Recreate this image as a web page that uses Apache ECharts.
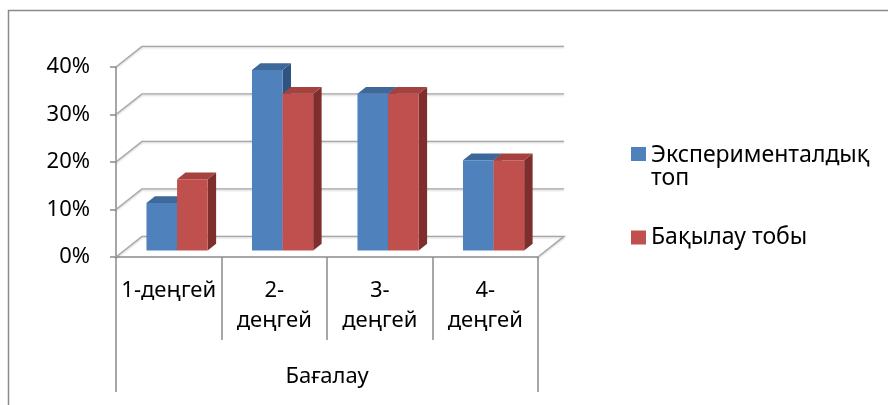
<!DOCTYPE html>
<html>
<head>
<meta charset="utf-8">
<script src="https://cdn.jsdelivr.net/npm/echarts/dist/echarts.min.js"></script>
<style>
  html, body { margin: 0; padding: 0; background: #fff; }
  #chart { width: 888px; height: 405px; }
</style>
</head>
<body>
<div id="chart"></div>
<script>
// Assessment levels and the share of each group at every level (%)
const levels = ['1-деңгей', '2-деңгей', '3-деңгей', '4-деңгей'];
const levelTickLabels = ['1-деңгей', '2-\nдеңгей', '3-\nдеңгей', '4-\nдеңгей'];
const groupLabel = ['Бағалау'];
const seriesNames = ['Экспериментaлдық топ', 'Бақылау тобы'];
const legendLabels = ['Экспериментaлдық\nтоп', 'Бақылау тобы'];
const experimental = [10, 38, 33, 19];
const control = [15, 33, 33, 19];
const valueTicks = [0, 10, 20, 30, 40];

const FONT = '"Noto Sans", "DejaVu Sans", sans-serif';

// Oblique projection of the floor depth (pixels) and where the columns sit in it
const DEPTH_DX = 26, DEPTH_DY = -20.6;
const BAR_NEAR = 0.32, BAR_FAR = 0.645;
const BAR_FRAC = 0.29;

const palettes = [
  { front: '#4F81BD', top: '#3D6899', side: '#2E5482' },
  { front: '#C0504D', top: '#A5413E', side: '#7E2F2D' }
];

function columnRenderer(seriesIndex) {
  const pal = palettes[seriesIndex];
  return function (params, api) {
    const cat = api.value(0);
    const val = api.value(1);
    const base = api.coord([cat, 0]);
    const tip = api.coord([cat, val]);
    const bw = api.size([1, 0])[0] * BAR_FRAC;
    const nx = DEPTH_DX * BAR_NEAR, ny = DEPTH_DY * BAR_NEAR;
    const ddx = DEPTH_DX * (BAR_FAR - BAR_NEAR), ddy = DEPTH_DY * (BAR_FAR - BAR_NEAR);
    const L = base[0] + (seriesIndex === 0 ? -bw : 0) + nx;
    const R = L + bw;
    const B = base[1] + ny;
    const T = tip[1] + ny;
    return {
      type: 'group',
      children: [
        { type: 'polygon', shape: { points: [[R, B], [R + ddx, B + ddy], [R + ddx, T + ddy], [R, T]] },
          style: { fill: pal.side } },
        { type: 'polygon', shape: { points: [[L, T], [R, T], [R + ddx, T + ddy], [L + ddx, T + ddy]] },
          style: { fill: pal.top } },
        { type: 'rect', shape: { x: L, y: T, width: bw, height: B - T },
          style: { fill: pal.front } }
      ]
    };
  };
}

// Side wall, back wall and floor outlines at each value tick
function wallRenderer(params, api) {
  const cs = params.coordSys;
  const v = api.value(1);
  const y = api.coord([0, v])[1];
  const xl = cs.x, xr = cs.x + cs.width;
  const pts = [[xl, y], [xl + DEPTH_DX, y + DEPTH_DY], [xr + DEPTH_DX, y + DEPTH_DY]];
  if (v === 0) pts.push([xr, y]);
  return {
    type: 'polyline',
    shape: { points: pts },
    style: {
      stroke: '#a8a8a8', lineWidth: 1.4, fill: null,
      shadowColor: 'rgba(0,0,0,0.22)', shadowBlur: 2, shadowOffsetY: 1
    }
  };
}

const chart = echarts.init(document.getElementById('chart'), null, { renderer: 'canvas' });

const legendText = { fontSize: 23, fontFamily: FONT, color: '#000' };
const legendFormatter = name => legendLabels[seriesNames.indexOf(name)];

chart.setOption({
  animation: false,
  backgroundColor: '#fff',
  textStyle: { fontFamily: FONT },
  graphic: [{
    type: 'rect', silent: true, z: -10,
    shape: { x: 8.5, y: 10.5, width: 1000, height: 1000 },
    style: { fill: null, stroke: '#8a8a8a', lineWidth: 1.5 }
  }],
  grid: { left: 116, right: 350, top: 67, bottom: 148 },
  legend: [{
    // two-line entry: the square sits beside the first line
    orient: 'vertical', left: 631, top: 144, padding: 0,
    itemWidth: 15, itemHeight: 40,
    icon: 'path://M0 0L15 0L15 14L0 14Z M0 40L0.01 40',
    textStyle: legendText, formatter: legendFormatter,
    data: [seriesNames[0]]
  }, {
    orient: 'vertical', left: 631, top: 226, padding: 0,
    itemWidth: 15, itemHeight: 14, icon: 'rect',
    textStyle: legendText, formatter: legendFormatter,
    data: [seriesNames[1]]
  }],
  xAxis: [{
    type: 'category', data: levels, position: 'bottom',
    axisLine: { show: true, lineStyle: { color: '#8a8a8a', width: 1.5 } },
    axisTick: { show: true, length: 83, lineStyle: { color: '#8a8a8a', width: 1.5 } },
    axisLabel: {
      interval: 0, margin: 19, fontSize: 22, color: '#000', lineHeight: 30, fontFamily: FONT,
      formatter: (v, i) => levelTickLabels[i]
    }
  }, {
    type: 'category', data: groupLabel, position: 'bottom',
    axisLine: { show: false },
    axisTick: { show: true, length: 135, lineStyle: { color: '#8a8a8a', width: 1.5 } },
    axisLabel: { margin: 105, fontSize: 22, color: '#000', lineHeight: 30, fontFamily: FONT }
  }],
  yAxis: {
    type: 'value', min: 0, max: 40, interval: 10,
    axisLine: { show: true, lineStyle: { color: '#8a8a8a', width: 1.5 } },
    axisTick: { show: true, length: 6, lineStyle: { color: '#8a8a8a', width: 1.5 } },
    splitLine: { show: false },
    axisLabel: { formatter: '{value}%', margin: 26, fontSize: 22, color: '#000', fontFamily: FONT }
  },
  series: [
    {
      type: 'custom', name: 'walls', silent: true, z: 1, clip: false,
      renderItem: wallRenderer,
      data: valueTicks.map(v => [0, v]),
      encode: { x: 0, y: 1 }
    },
    {
      type: 'custom', name: seriesNames[0], z: 2, clip: false,
      itemStyle: { color: palettes[0].front },
      renderItem: columnRenderer(0),
      data: experimental.map((v, i) => [i, v]),
      encode: { x: 0, y: 1 }
    },
    {
      type: 'custom', name: seriesNames[1], z: 3, clip: false,
      itemStyle: { color: palettes[1].front },
      renderItem: columnRenderer(1),
      data: control.map((v, i) => [i, v]),
      encode: { x: 0, y: 1 }
    }
  ]
});
</script>
</body>
</html>
